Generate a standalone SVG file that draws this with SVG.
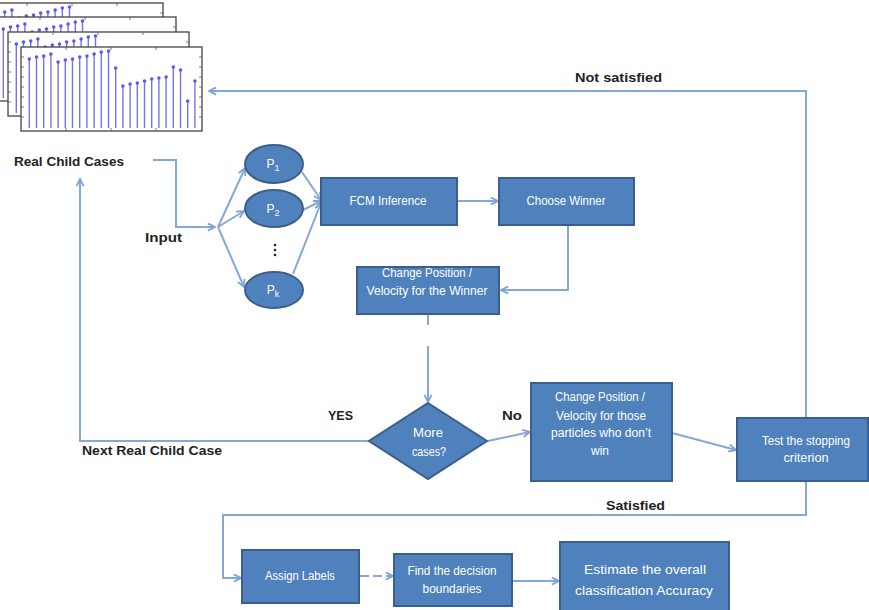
<svg xmlns="http://www.w3.org/2000/svg" xmlns:xlink="http://www.w3.org/1999/xlink" width="869" height="610" viewBox="0 0 869 610">
<style>
.box{fill:#4F81BD;stroke:#3A5F8E;stroke-width:2}
.wt{fill:#fff;font-family:"Liberation Sans",Arial,sans-serif;font-size:12px;text-anchor:middle;dominant-baseline:central}
.bt{fill:#222;font-family:"Liberation Sans",Arial,sans-serif;font-size:13px;font-weight:bold;dominant-baseline:central}
.cn{fill:none;stroke:#86A8D8;stroke-width:2}
.stem{stroke:#7373F5;stroke-width:1.4}
.dot{fill:#5A5AF0}
.frame{fill:#fff;stroke:#444;stroke-width:1.3}
.tick{stroke:#555;stroke-width:0.8}
</style>
<defs>
<marker id="ah" viewBox="0 0 10 10" refX="9" refY="5" markerWidth="9" markerHeight="9" orient="auto" markerUnits="userSpaceOnUse">
<path d="M1,1 L9,5 L1,9" fill="none" stroke="#7FA3D5" stroke-width="2"/>
</marker>
<g id="plot">
<rect class="frame" x="0" y="0" width="181" height="84"/>
<path class="tick" d="M0,10h3M0,20h3M0,30h3M0,40h3M0,50h3M0,60h3M0,70h3M181,10h-3M181,20h-3M181,30h-3M181,40h-3M181,50h-3M181,60h-3M181,70h-3M45,0v3M90,0v3M135,0v3M45,84v-3M90,84v-3M135,84v-3"/>
<g class="stem">
<path d="M8.3,81V12M15.5,81V10M22.7,81V9M29.9,81V7M37.1,81V15M44.3,81V13M51.5,81V12M58.7,81V10M65.9,81V9M73.1,81V7M80.3,81V5M87.5,81V4M94.7,81V21M101.9,81V39M109.1,81V37M116.3,81V36M123.5,81V34M130.7,81V32M137.9,81V31M145.1,81V30M152.3,81V20M159.5,81V23M166.7,81V54M173.9,81V34"/>
</g>
<g class="dot">
<circle cx="8.3" cy="12" r="1.8"/><circle cx="15.5" cy="10" r="1.8"/><circle cx="22.7" cy="9" r="1.8"/><circle cx="29.9" cy="7" r="1.8"/><circle cx="37.1" cy="15" r="1.8"/><circle cx="44.3" cy="13" r="1.8"/><circle cx="51.5" cy="12" r="1.8"/><circle cx="58.7" cy="10" r="1.8"/><circle cx="65.9" cy="9" r="1.8"/><circle cx="73.1" cy="7" r="1.8"/><circle cx="80.3" cy="5" r="1.8"/><circle cx="87.5" cy="4" r="1.8"/><circle cx="94.7" cy="21" r="1.8"/><circle cx="101.9" cy="39" r="1.8"/><circle cx="109.1" cy="37" r="1.8"/><circle cx="116.3" cy="36" r="1.8"/><circle cx="123.5" cy="34" r="1.8"/><circle cx="130.7" cy="32" r="1.8"/><circle cx="137.9" cy="31" r="1.8"/><circle cx="145.1" cy="30" r="1.8"/><circle cx="152.3" cy="20" r="1.8"/><circle cx="159.5" cy="23" r="1.8"/><circle cx="166.7" cy="54" r="1.8"/><circle cx="173.9" cy="34" r="1.8"/>
</g>
</g>
</defs>
<rect width="869" height="610" fill="#fff"/>

<g id="charts">
<use xlink:href="#plot" href="#plot" x="-18" y="3"/>
<use xlink:href="#plot" href="#plot" x="-5" y="17"/>
<use xlink:href="#plot" href="#plot" x="8" y="32"/>
<use xlink:href="#plot" href="#plot" x="21" y="47"/>
</g>

<g id="connectors">
<path class="cn" d="M153,160 H176 V227 H215" marker-end="url(#ah)"/>
<path class="cn" d="M218,227 L245,168" marker-end="url(#ah)"/>
<path class="cn" d="M218,227 L244,211" marker-end="url(#ah)"/>
<path class="cn" d="M218,227 L244,287" marker-end="url(#ah)"/>
<path class="cn" d="M302,172 L321,200" marker-end="url(#ah)"/>
<path class="cn" d="M303,210 L321,201" marker-end="url(#ah)"/>
<path class="cn" d="M293,274 L321,203" marker-end="url(#ah)"/>
<path class="cn" d="M457,201 H498" marker-end="url(#ah)"/>
<path class="cn" d="M568,225 V290 H501" marker-end="url(#ah)"/>
<path class="cn" d="M428,315 V325"/>
<path class="cn" d="M428,346 V402" marker-end="url(#ah)"/>
<path class="cn" d="M369,441 H80 V179" marker-end="url(#ah)"/>
<path class="cn" d="M488,441 L530,432" marker-end="url(#ah)"/>
<path class="cn" d="M672,433 L736,450" marker-end="url(#ah)"/>
<path class="cn" d="M806,418 V91 H209" marker-end="url(#ah)"/>
<path class="cn" d="M806,481 V515 H223 V578 H241" marker-end="url(#ah)"/>
<path class="cn" d="M360,576 H393" stroke-dasharray="9,4" marker-end="url(#ah)"/>
<path class="cn" d="M512,581 H559" marker-end="url(#ah)"/>
</g>

<g id="labels">
<text class="bt" x="14" y="161" textLength="110" lengthAdjust="spacingAndGlyphs">Real Child Cases</text>
<text class="bt" x="145" y="237" textLength="37" lengthAdjust="spacingAndGlyphs">Input</text>
<text class="bt" x="328" y="415" textLength="25" lengthAdjust="spacingAndGlyphs">YES</text>
<text class="bt" x="502" y="415" textLength="20" lengthAdjust="spacingAndGlyphs">No</text>
<text class="bt" x="82" y="450" textLength="140" lengthAdjust="spacingAndGlyphs">Next Real Child Case</text>
<text class="bt" x="575" y="77" textLength="87" lengthAdjust="spacingAndGlyphs">Not satisfied</text>
<text class="bt" x="606" y="505" textLength="59" lengthAdjust="spacingAndGlyphs">Satisfied</text>
</g>

<g id="p1">
<ellipse class="box" cx="274" cy="164" rx="29" ry="19"/>
<text class="wt" x="273" y="164" font-size="14">P<tspan font-size="9" dy="4">1</tspan></text>
</g>
<g id="p2">
<ellipse class="box" cx="274" cy="208.5" rx="29" ry="18.5"/>
<text class="wt" x="273" y="208.5" font-size="14">P<tspan font-size="9" dy="4">2</tspan></text>
</g>
<g id="dots">
<circle cx="275" cy="245" r="1.3" fill="#222"/>
<circle cx="275" cy="250" r="1.3" fill="#222"/>
<circle cx="275" cy="255" r="1.3" fill="#222"/>
</g>
<g id="pk">
<ellipse class="box" cx="274" cy="290" rx="29" ry="18"/>
<text class="wt" x="273" y="290" font-size="14">P<tspan font-size="9" dy="4">k</tspan></text>
</g>

<g id="fcm">
<rect class="box" x="321" y="178" width="136" height="47"/>
<text class="wt" x="388" y="201" textLength="77" lengthAdjust="spacingAndGlyphs">FCM Inference</text>
</g>
<g id="choose">
<rect class="box" x="499" y="178" width="135" height="47"/>
<text class="wt" x="566" y="201" textLength="79" lengthAdjust="spacingAndGlyphs">Choose Winner</text>
</g>
<g id="change1">
<rect class="box" x="357" y="267" width="142" height="47"/>
<text class="wt" x="427" y="273" textLength="90" lengthAdjust="spacingAndGlyphs">Change Position /</text>
<text class="wt" x="427" y="291" textLength="121" lengthAdjust="spacingAndGlyphs">Velocity for the Winner</text>
</g>
<g id="more">
<polygon class="box" points="428,403 487,441 428,479 369,441"/>
<text class="wt" x="428" y="433" textLength="30" lengthAdjust="spacingAndGlyphs">More</text>
<text class="wt" x="429" y="452" textLength="34" lengthAdjust="spacingAndGlyphs">cases?</text>
</g>
<g id="change2">
<rect class="box" x="531" y="383" width="141" height="98"/>
<text class="wt" x="600" y="397" textLength="90" lengthAdjust="spacingAndGlyphs">Change Position /</text>
<text class="wt" x="601" y="416" textLength="90" lengthAdjust="spacingAndGlyphs">Velocity for those</text>
<text class="wt" x="601" y="433" textLength="100" lengthAdjust="spacingAndGlyphs">particles who don’t</text>
<text class="wt" x="600" y="451" textLength="18" lengthAdjust="spacingAndGlyphs">win</text>
</g>
<g id="test">
<rect class="box" x="737" y="418" width="131" height="63"/>
<text class="wt" x="806" y="441" textLength="88" lengthAdjust="spacingAndGlyphs">Test the stopping</text>
<text class="wt" x="806" y="458" textLength="45" lengthAdjust="spacingAndGlyphs">criterion</text>
</g>
<g id="assign">
<rect class="box" x="242" y="550" width="117" height="53"/>
<text class="wt" x="300" y="576" textLength="70" lengthAdjust="spacingAndGlyphs">Assign Labels</text>
</g>
<g id="find">
<rect class="box" x="394" y="554" width="118" height="52"/>
<text class="wt" x="452" y="571" textLength="89" lengthAdjust="spacingAndGlyphs">Find the  decision</text>
<text class="wt" x="452" y="589" textLength="59" lengthAdjust="spacingAndGlyphs">boundaries</text>
</g>
<g id="estimate">
<rect class="box" x="560" y="542" width="169" height="72"/>
<text class="wt" x="645" y="570" font-size="15" textLength="122" lengthAdjust="spacingAndGlyphs">Estimate the overall</text>
<text class="wt" x="644" y="591" font-size="15" textLength="138" lengthAdjust="spacingAndGlyphs">classification Accuracy</text>
</g>
</svg>
